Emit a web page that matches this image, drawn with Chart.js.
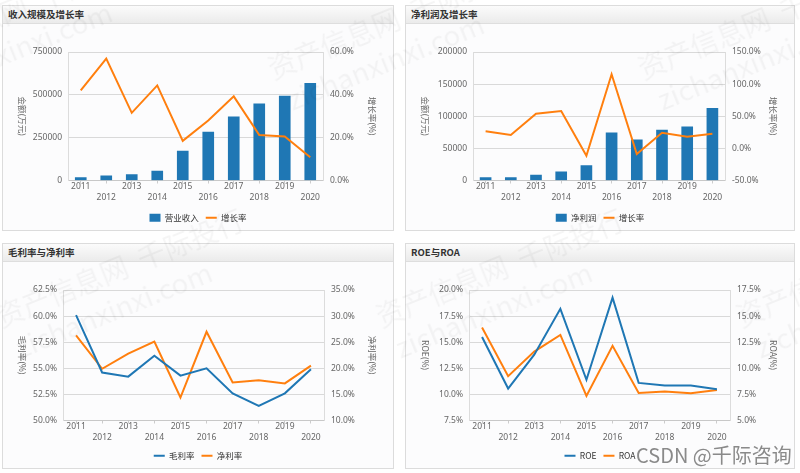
<!DOCTYPE html>
<html>
<head>
<meta charset="utf-8">
<script src="https://cdn.jsdelivr.net/npm/chart.js@4.4.0/dist/chart.umd.min.js"></script>
<style>
  body { margin: 0; width: 800px; height: 473px; overflow: hidden; position: relative; background: #fff;
         font-family: "Noto Sans CJK SC", "Noto Sans", sans-serif; }
  .panel { position: absolute; border: 1px solid #dcdcdc; background: #fcfcfd; box-sizing: border-box; }
  .head { height: 17px; line-height: 17px; padding-left: 5px; font-size: 9.5px; font-weight: bold; color: #333;
          background: linear-gradient(#fbfbfb, #ebebeb); border-bottom: 1px solid #dedede; }
  .panel canvas { display: block; }
  .wm { position: absolute; color: rgba(0,0,0,0.04); font-size: 28px; white-space: pre; line-height: 36px;
        transform: rotate(-22deg); transform-origin: left top; pointer-events: none; }
  .csdn { position: absolute; left: 636px; top: 440px; font-size: 20px; color: #8a8a8a; pointer-events: none; }
</style>
</head>
<body>
<div class="panel" style="left:2px;top:5px;width:392px;height:226px">
  <div class="head">收入规模及增长率</div>
  <canvas id="c1" width="390" height="206"></canvas>
</div>
<div class="panel" style="left:405px;top:5px;width:390px;height:226px">
  <div class="head">净利润及增长率</div>
  <canvas id="c2" width="388" height="206"></canvas>
</div>
<div class="panel" style="left:2px;top:243px;width:392px;height:226px">
  <div class="head">毛利率与净利率</div>
  <canvas id="c3" width="390" height="206"></canvas>
</div>
<div class="panel" style="left:405px;top:243px;width:390px;height:226px">
  <div class="head">ROE与ROA</div>
  <canvas id="c4" width="388" height="206"></canvas>
</div>
<div id="marks"></div>
<div class="csdn">CSDN @千际咨询</div>

<script>
// данные с картинки
const years = ["2011", "2012", "2013", "2014", "2015", "2016", "2017", "2018", "2019", "2020"];

const revenue = [17500, 27000, 35000, 55000, 171000, 282000, 372000, 448000, 493000, 567000];
const revenueGrowth = [42.1, 56.9, 31.6, 44.4, 18.5, 28.0, 39.3, 21.2, 20.6, 10.9];

const netProfit = [4700, 4700, 8300, 13500, 23400, 74300, 63400, 78400, 83600, 112200];
const profitGrowth = [26.5, 20.8, 54.0, 58.2, -11.4, 115.3, -8.8, 24.4, 18.2, 22.9];

const grossMargin = [60.1, 54.6, 54.2, 56.2, 54.3, 55.0, 52.6, 51.4, 52.6, 54.9];
const netMargin = [26.3, 19.9, 22.8, 25.1, 14.4, 27.0, 17.3, 17.7, 17.1, 20.5];

const roe = [15.5, 10.56, 13.8, 18.2, 11.4, 19.26, 11.1, 10.85, 10.85, 10.5];
const roa = [13.9, 9.25, 11.6, 13.2, 7.35, 12.15, 7.64, 7.77, 7.6, 7.93];

// [min, max, step]
const revenueAxis = [0, 750000, 250000];
const revenueGrowthAxis = [0, 60, 20];
const profitAxis = [0, 200000, 50000];
const profitGrowthAxis = [-50, 150, 50];
const grossAxis = [50, 62.5, 2.5];
const netAxis = [10, 35, 5];
const roeAxis = [7.5, 20, 2.5];
const roaAxis = [5, 17.5, 2.5];

const BLUE = "#1f77b4";
const ORANGE = "#ff7f0e";
const FONT = '"Noto Sans CJK SC", "Noto Sans", sans-serif';
const TICK_FONT = '"Noto Sans", "Noto Sans CJK SC", sans-serif';

Chart.defaults.font.family = FONT;
Chart.defaults.animation = false;

const plain = (v) => String(v);
const pct = (v) => v.toFixed(1) + "%";

// подписи осей, повернутые сверху вниз
const sideTitles = {
  id: "sideTitles",
  afterDraw(chart, args, opts) {
    const { ctx, chartArea, width } = chart;
    const cy = (chartArea.top + chartArea.bottom) / 2;
    ctx.save();
    ctx.font = "8.5px " + FONT;
    ctx.fillStyle = "#666";
    ctx.textAlign = "center";
    ctx.textBaseline = "middle";
    [[opts.leftX, opts.left], [width - opts.rightX, opts.right]].forEach(([x, t]) => {
      ctx.save();
      ctx.translate(x, cy);
      ctx.rotate(Math.PI / 2);
      ctx.fillText(t, 0, 0);
      ctx.restore();
    });
    ctx.restore();
  },
};

function makeScales(o) {
  const tickFont = { family: TICK_FONT, size: 8.5 };
  return {
    x: {
      offset: true,
      grid: { offset: false, drawOnChartArea: false, tickLength: 3, color: "#ccc" },
      border: { color: "#c8c8c8" },
      ticks: {
        color: "#666",
        font: { family: TICK_FONT, size: 8.5, lineHeight: 1.3 },
        padding: -2,
        maxRotation: 0,
        autoSkip: false,
        callback: function (val, i) {
          const y = this.getLabelForValue(val);
          return i % 2 ? ["", y] : [y, ""];
        },
      },
      afterFit: (s) => { s.height = o.xh; },
    },
    y: {
      position: "left",
      min: o.left[0], max: o.left[1],
      ticks: { stepSize: o.left[2], color: "#666", font: tickFont, padding: 6, callback: o.leftFmt },
      grid: { color: "#d9d9d9", drawTicks: false },
      border: { color: "#dcdcdc" },
      afterFit: (s) => { s.width = o.lw; },
    },
    y1: {
      position: "right",
      min: o.right[0], max: o.right[1],
      ticks: { stepSize: o.right[2], color: "#666", font: tickFont, padding: 7, callback: o.rightFmt },
      grid: { drawOnChartArea: false, drawTicks: false },
      border: { color: "#dcdcdc" },
      afterFit: (s) => { s.width = o.rw; },
    },
  };
}

function legendOpts() {
  return {
    position: "bottom",
    labels: {
      usePointStyle: true,
      pointStyleWidth: 11,
      boxHeight: 8,
      color: "#333",
      font: { size: 8.5 },
      padding: 7,
      generateLabels(chart) {
        const items = Chart.defaults.plugins.legend.labels.generateLabels(chart);
        items.forEach((it) => {
          const ds = chart.data.datasets[it.datasetIndex];
          it.pointStyle = ds.type === "line" ? "line" : "rect";
        });
        return items.sort((a, b) => a.datasetIndex - b.datasetIndex);
      },
    },
  };
}

function barDs(label, data) {
  return { type: "bar", label, data, backgroundColor: BLUE, borderWidth: 0, barThickness: 11, yAxisID: "y", order: 2 };
}
function lineDs(label, data, color, axis) {
  return { type: "line", label, data, borderColor: color, backgroundColor: color, borderWidth: 2,
           pointRadius: 0, tension: 0, fill: false, yAxisID: axis, order: 1 };
}

function makeChart(id, datasets, o) {
  return new Chart(document.getElementById(id), {
    type: "bar",
    data: { labels: years, datasets },
    options: {
      responsive: false,
      layout: { padding: { top: 28, bottom: o.pb } },
      events: [],
      scales: makeScales(o),
      plugins: {
        legend: legendOpts(),
        tooltip: { enabled: false },
        sideTitles: { left: o.lt, right: o.rt, leftX: 19, rightX: 21 },
      },
    },
    plugins: [sideTitles],
  });
}

makeChart("c1", [barDs("营业收入", revenue), lineDs("增长率", revenueGrowth, ORANGE, "y1")], {
  left: revenueAxis, right: revenueGrowthAxis, leftFmt: plain, rightFmt: pct,
  lw: 65, rw: 70, pb: -2, xh: 26, lt: "金额(万元)", rt: "增长率(%)",
});

makeChart("c2", [barDs("净利润", netProfit), lineDs("增长率", profitGrowth, ORANGE, "y1")], {
  left: profitAxis, right: profitGrowthAxis, leftFmt: plain, rightFmt: pct,
  lw: 67, rw: 69, pb: -2, xh: 26, lt: "金额(万元)", rt: "增长率(%)",
});

makeChart("c3", [lineDs("毛利率", grossMargin, BLUE, "y"), lineDs("净利率", netMargin, ORANGE, "y1")], {
  left: grossAxis, right: netAxis, leftFmt: pct, rightFmt: pct,
  lw: 60, rw: 69, pb: -2, xh: 24, lt: "毛利率(%)", rt: "净利率(%)",
});

makeChart("c4", [lineDs("ROE", roe, BLUE, "y"), lineDs("ROA", roa, ORANGE, "y1")], {
  left: roeAxis, right: roaAxis, leftFmt: pct, rightFmt: pct,
  lw: 63, rw: 64, pb: -2, xh: 24, lt: "ROE(%)", rt: "ROA(%)",
});

// бледные водяные знаки
const markSpots = [[262, 52], [632, 52], [-110, 40], [-10, 300], [370, 300], [730, 300]];
const marks = document.getElementById("marks");
markSpots.forEach(([x, y]) => {
  const d = document.createElement("div");
  d.className = "wm";
  d.style.left = x + "px";
  d.style.top = y + "px";
  d.textContent = "资产信息网  千际投行\n zichanxinxi.com";
  marks.appendChild(d);
});
</script>
</body>
</html>
